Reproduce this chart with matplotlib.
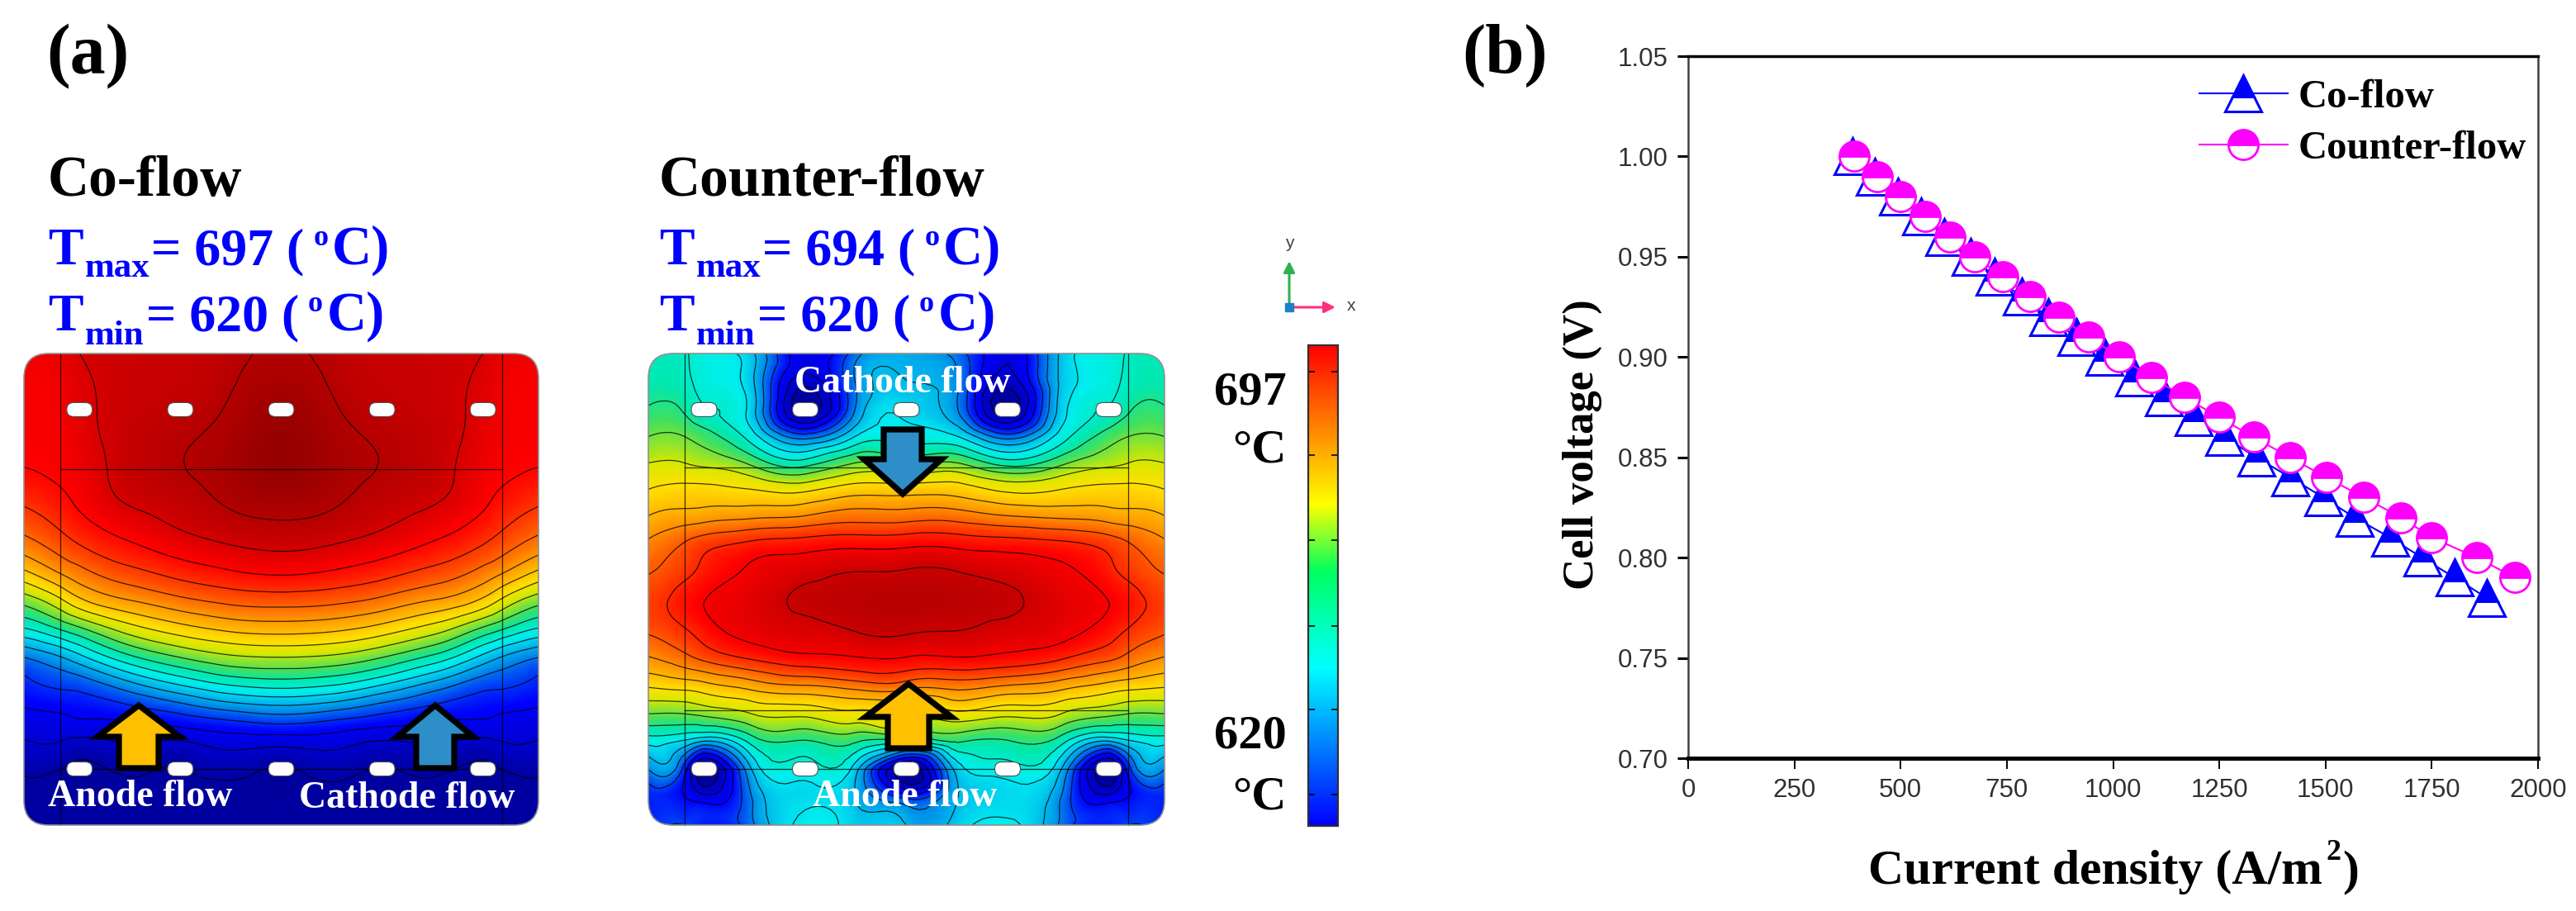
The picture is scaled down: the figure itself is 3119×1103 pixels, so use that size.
#!/usr/bin/python3
import numpy as np
import matplotlib
matplotlib.use('Agg')
import matplotlib.pyplot as plt
from matplotlib.colors import LinearSegmentedColormap
from matplotlib.cm import ScalarMappable
from matplotlib.colors import Normalize
from matplotlib.patches import FancyBboxPatch, Polygon
from matplotlib.tri import Triangulation, UniformTriRefiner, CubicTriInterpolator

W, H = 3119, 1103
SERIF = 'Liberation Serif'
SANS = 'Liberation Sans'
T_LOW, T_HIGH = 620.0, 697.0

# temperature maps (deg C), left half of each panel
half_cols = [0.0, 0.07, 0.108, 0.2, 0.304, 0.4, 0.5]

co_rows = [0.0, 0.126, 0.245, 0.301, 0.357, 0.413, 0.47, 0.526, 0.582,
           0.638, 0.694, 0.75, 0.792, 0.834, 0.876, 0.932, 1.0]
co_temp = np.array([
    [686.5, 687.5, 689.0, 690.0, 690.5, 692.0, 693.5],
    [686.0, 686.5, 687.8, 690.3, 691.5, 693.6, 696.0],
    [684.9, 685.8, 686.8, 690.5, 692.8, 695.0, 697.0],
    [682.3, 684.4, 686.0, 689.7, 691.5, 694.0, 695.5],
    [679.0, 682.0, 684.0, 687.2, 689.7, 691.8, 692.8],
    [674.5, 678.3, 680.4, 683.9, 686.7, 688.5, 689.4],
    [667.3, 672.5, 675.0, 679.0, 682.0, 684.0, 685.0],
    [658.3, 663.8, 667.7, 672.4, 675.7, 677.8, 678.5],
    [649.0, 653.7, 656.6, 663.2, 667.6, 670.2, 671.0],
    [638.0, 641.8, 645.0, 652.9, 658.2, 661.2, 662.0],
    [632.3, 634.5, 635.5, 641.0, 647.0, 651.0, 652.3],
    [629.0, 630.0, 630.6, 632.3, 635.3, 638.6, 640.2],
    [626.6, 627.0, 627.5, 628.0, 629.0, 630.7, 631.8],
    [624.0, 624.2, 622.8, 624.5, 623.5, 625.7, 625.0],
    [621.7, 621.3, 620.6, 621.7, 621.0, 622.3, 621.0],
    [620.6, 620.5, 620.4, 620.6, 620.3, 620.5, 620.3],
    [620.6, 620.6, 620.6, 620.6, 620.5, 620.5, 620.5],
])

counter_rows = [0.0, 0.057, 0.12, 0.176, 0.232, 0.288, 0.344, 0.4, 0.456,
                0.526, 0.596, 0.652, 0.708, 0.764, 0.82, 0.882, 0.939, 1.0]
counter_temp = np.array([
    [651.0, 650.5, 648.0, 643.0, 627.0, 636.0, 641.0],
    [652.0, 651.0, 648.5, 643.0, 624.0, 638.0, 642.0],
    [654.5, 653.5, 650.5, 644.0, 620.0, 638.0, 645.0],
    [658.0, 658.0, 656.0, 648.0, 636.0, 646.0, 648.0],
    [662.0, 662.0, 661.0, 657.0, 652.0, 658.0, 657.0],
    [666.0, 667.0, 667.0, 666.0, 665.0, 668.0, 668.0],
    [670.0, 671.5, 672.0, 673.0, 674.0, 676.0, 676.0],
    [674.5, 678.0, 680.0, 682.4, 683.5, 684.3, 684.5],
    [677.5, 680.5, 683.0, 686.5, 688.3, 689.6, 689.9],
    [680.0, 684.0, 686.0, 688.0, 690.8, 692.0, 692.5],
    [678.0, 681.0, 683.5, 687.0, 688.3, 689.6, 690.0],
    [673.0, 676.0, 678.0, 681.5, 684.0, 685.0, 685.0],
    [666.0, 667.0, 668.0, 671.0, 673.0, 675.0, 675.0],
    [658.0, 658.0, 659.0, 662.0, 663.0, 665.0, 664.0],
    [648.0, 646.0, 643.0, 652.0, 654.0, 655.0, 652.0],
    [638.0, 632.0, 620.0, 642.0, 648.0, 644.0, 620.0],
    [632.0, 630.0, 627.0, 638.0, 645.0, 642.0, 632.0],
    [632.0, 634.0, 632.0, 637.0, 647.0, 644.0, 642.0],
])

# polarisation curves
co_current = [387, 439, 494, 548, 602, 664, 722, 785, 847, 913, 980, 1049,
              1119, 1190, 1262, 1337, 1417, 1495, 1568, 1652, 1727, 1804, 1879]
co_voltage = [1.00, 0.99, 0.98, 0.97, 0.96, 0.95, 0.94, 0.93, 0.92, 0.91, 0.90, 0.89,
              0.88, 0.87, 0.86, 0.85, 0.84, 0.83, 0.82, 0.81, 0.80, 0.79, 0.78]
counter_current = [390, 445, 500, 558, 616, 675, 740, 805, 873, 942, 1015, 1090,
                   1168, 1249, 1331, 1416, 1502, 1590, 1678, 1750, 1856, 1946]
counter_voltage = [1.00, 0.99, 0.98, 0.97, 0.96, 0.95, 0.94, 0.93, 0.92, 0.91, 0.90, 0.89,
                   0.88, 0.87, 0.86, 0.85, 0.84, 0.83, 0.82, 0.81, 0.80, 0.79]
x_ticks = [0, 250, 500, 750, 1000, 1250, 1500, 1750, 2000]
y_ticks = [0.70, 0.75, 0.80, 0.85, 0.90, 0.95, 1.00, 1.05]
bar_ticks = [625, 638.6, 652, 665.8, 679.4, 692.8]

panel_cmap = LinearSegmentedColormap.from_list('panel', [
    (0.00, '#00009a'), (0.05, '#0000c8'), (0.13, '#0000ff'), (0.24, '#0090e8'),
    (0.35, '#00f0f0'), (0.42, '#00e8b0'), (0.47, '#40e060'), (0.55, '#d8e800'),
    (0.60, '#ffe000'), (0.70, '#ff9000'), (0.78, '#ff4000'), (0.85, '#ff0000'),
    (0.915, '#c80000'), (1.00, '#980000')])
bar_cmap = LinearSegmentedColormap.from_list('bar', [
    (0.00, '#0000ff'), (0.33, '#00ffff'), (0.53, '#00ff60'),
    (0.67, '#ffff00'), (1.00, '#ff0000')])


def px_rect(x0, y0, x1, y1):
    return [x0 / W, 1 - y1 / H, (x1 - x0) / W, (y1 - y0) / H]


fig = plt.figure(figsize=(W / 100, H / 100), dpi=100, facecolor='white')
ov = fig.add_axes([0, 0, 1, 1])
ov.set_xlim(0, W)
ov.set_ylim(H, 0)
ov.axis('off')


def label(x, y, s, size, color='black', family=SERIF, weight='bold', **kw):
    ov.text(x, y, s, fontsize=size, color=color, family=family, weight=weight,
            va='baseline', ha=kw.pop('ha', 'left'), **kw)


def draw_panel(left, top, width, height, rows, temp, levels, lines_y):
    cols = half_cols + [1 - c for c in half_cols[-2::-1]]
    full = np.hstack([temp, temp[:, -2::-1]])
    gx, gy = np.meshgrid(left + np.array(cols) * width, top + np.array(rows) * height)
    tri = Triangulation(gx.ravel(), gy.ravel())
    z = full.ravel()
    fine_tri, fine_z = UniformTriRefiner(tri).refine_field(
        z, triinterpolator=CubicTriInterpolator(tri, z, kind='min_E'), subdiv=3)
    frame = FancyBboxPatch((left + 30, top + 30), width - 60, height - 60,
                           boxstyle='round,pad=30,rounding_size=30',
                           fc='none', ec='#909090', lw=1.2, zorder=4)
    ov.add_patch(frame)
    mesh = ov.tripcolor(fine_tri, fine_z, shading='gouraud', cmap=panel_cmap,
                        vmin=T_LOW, vmax=T_HIGH, zorder=1)
    mesh.set_clip_path(frame)
    cs = ov.tricontour(fine_tri, fine_z, levels=levels, colors='black',
                       linewidths=0.9, alpha=0.75, zorder=2)
    cs.set_clip_path(frame)
    # domain outline inside the plate
    for fx in (0.07, 0.93):
        ov.plot([left + fx * width] * 2, [top, top + height], color='black', lw=0.9, alpha=0.75, zorder=2)
    for fy in lines_y:
        ov.plot([left + 0.07 * width, left + 0.93 * width], [top + fy * height] * 2,
                color='black', lw=0.9, alpha=0.75, zorder=2)
    # manifold holes
    for fx in (0.108, 0.304, 0.5, 0.696, 0.892):
        for fy in (0.119, 0.881):
            cx, cy = left + fx * width, top + fy * height
            ov.add_patch(FancyBboxPatch((cx - 8, cy - 1), 16, 2,
                                        boxstyle='round,pad=7.5,rounding_size=8.5',
                                        fc='white', ec='#505050', lw=0.8, zorder=3))


def flow_arrow(xc, tip, shoulder, tail, head, stem, color):
    pts = [(xc, tip), (xc + head, shoulder), (xc + stem, shoulder), (xc + stem, tail),
           (xc - stem, tail), (xc - stem, shoulder), (xc - head, shoulder)]
    ov.add_patch(Polygon(pts, closed=True, fc=color, ec='black', lw=5.2,
                         joinstyle='miter', zorder=5))


draw_panel(29, 428, 623, 571, co_rows, co_temp,
           [621] + list(range(625, 694, 4)), [0.245, 0.881])
draw_panel(785, 428, 625, 571, counter_rows, counter_temp,
           list(range(622, 691, 4)), [0.241, 0.757, 0.881])

flow_arrow(168, 854, 892, 930, 50, 24, '#ffc000')
flow_arrow(527, 854, 892, 930, 46, 23, '#2e8fc8')
flow_arrow(1093, 598, 556, 520, 47, 23, '#2e8fc8')
flow_arrow(1100, 828, 868, 906, 52, 25, '#ffc000')

label(58, 976, 'Anode flow', 33, 'white', zorder=6)
label(362, 978, 'Cathode flow', 33, 'white', zorder=6)
label(962, 475, 'Cathode flow', 33, 'white', zorder=6)
label(984, 976, 'Anode flow', 33, 'white', zorder=6)

# headings over the panels
label(56, 88, '(a)', 62)
label(1770, 88, '(b)', 61)
BLUE = '#0000ff'
for dx, title, tmax in ((0, 'Co-flow', '697'), (740, 'Counter-flow', '694')):
    label(58 + dx, 237, title, 50)
    label(58 + dx, 320, 'T', 46, BLUE)
    label(103 + dx, 335, 'max', 31, BLUE)
    label(183 + dx, 320, '= %s (' % tmax, 46, BLUE)
    label(380 + dx, 297, 'o', 26, BLUE)
    label(402 + dx, 320, 'C)', 48, BLUE)
    label(58 + dx, 400, 'T', 46, BLUE)
    label(103 + dx, 417, 'min', 31, BLUE)
    label(177 + dx, 400, '= 620 (', 46, BLUE)
    label(373 + dx, 377, 'o', 26, BLUE)
    label(396 + dx, 400, 'C)', 48, BLUE)

# colour scale
cax = fig.add_axes(px_rect(1584, 418, 1620, 1000))
cb = fig.colorbar(ScalarMappable(Normalize(T_LOW, T_HIGH), bar_cmap), cax=cax, ticks=bar_ticks)
cb.ax.tick_params(direction='in', length=5.5, width=1.2, left=True, right=True,
                  labelleft=False, labelright=False)
cb.outline.set_linewidth(1.6)
cb.outline.set_edgecolor('#303030')
label(1558, 489, '697', 42, ha='right')
label(1558, 560, '\u00b0C', 42, ha='right')
label(1558, 906, '620', 42, ha='right')
label(1558, 979, '\u00b0C', 42, ha='right')

# coordinate triad
ov.annotate('', xy=(1561, 316), xytext=(1561, 372),
            arrowprops=dict(arrowstyle='-|>', color='#30b050', lw=2.2, mutation_scale=20, shrinkA=0, shrinkB=0))
ov.annotate('', xy=(1617, 372), xytext=(1561, 372),
            arrowprops=dict(arrowstyle='-|>', color='#ff3080', lw=2.2, mutation_scale=20, shrinkA=0, shrinkB=0))
ov.plot([1561], [372], 's', color='#2080c8', ms=7, zorder=3)
ov.text(1561, 294, 'y', fontsize=15, family=SANS, color='#404040', ha='center', va='center')
ov.text(1636, 371, 'x', fontsize=15, family=SANS, color='#404040', ha='center', va='center')

# polarisation chart
ax = fig.add_axes(px_rect(2044, 68, 3073, 918))
ax.set_xlim(0, 2000)
ax.set_ylim(0.70, 1.05)
ax.plot(co_current, co_voltage, '-^', color='#0000ff', lw=1.5, ms=32, mew=2.2,
        fillstyle='top', markerfacecoloralt='white', label='Co-flow', zorder=3)
ax.plot(counter_current, counter_voltage, '-o', color='#ff00ff', lw=1.5, ms=26, mew=2.0,
        fillstyle='top', markerfacecoloralt='white', label='Counter-flow', zorder=4)
ax.set_xticks(x_ticks)
ax.set_yticks(y_ticks)
ax.set_yticklabels(['%.2f' % v for v in y_ticks])
ax.tick_params(axis='x', length=9.5, width=1.4, pad=8, labelsize=22.5, labelcolor='#303030')
ax.tick_params(axis='y', length=9.5, width=2.2, pad=8, labelsize=22.5, labelcolor='#303030')
for t in ax.get_xticklabels() + ax.get_yticklabels():
    t.set_family(SANS)
ax.spines['left'].set_linewidth(1.8)
ax.spines['left'].set_color('#404040')
ax.spines['right'].set_linewidth(1.8)
ax.spines['right'].set_color('#404040')
ax.spines['top'].set_linewidth(2.5)
ax.spines['bottom'].set_linewidth(3.6)

leg = ax.legend(loc='upper left', bbox_to_anchor=(2663 / W, 1 - 96 / H), bbox_transform=fig.transFigure,
                frameon=False, borderpad=0, borderaxespad=0, handlelength=2.2, handletextpad=0.26,
                labelspacing=0.36, prop={'family': SERIF, 'weight': 'bold', 'size': 35}, numpoints=1)

ov.text(1916, 538, 'Cell voltage (V)', fontsize=38, family=SERIF, weight='bold',
        rotation=90, ha='center', va='center')
label(2262, 1070, 'Current density (A/m', 43)
label(2816, 1041, '2', 26)
label(2836, 1070, ')', 43)

fig.savefig('out.png', dpi=100, facecolor='white')
